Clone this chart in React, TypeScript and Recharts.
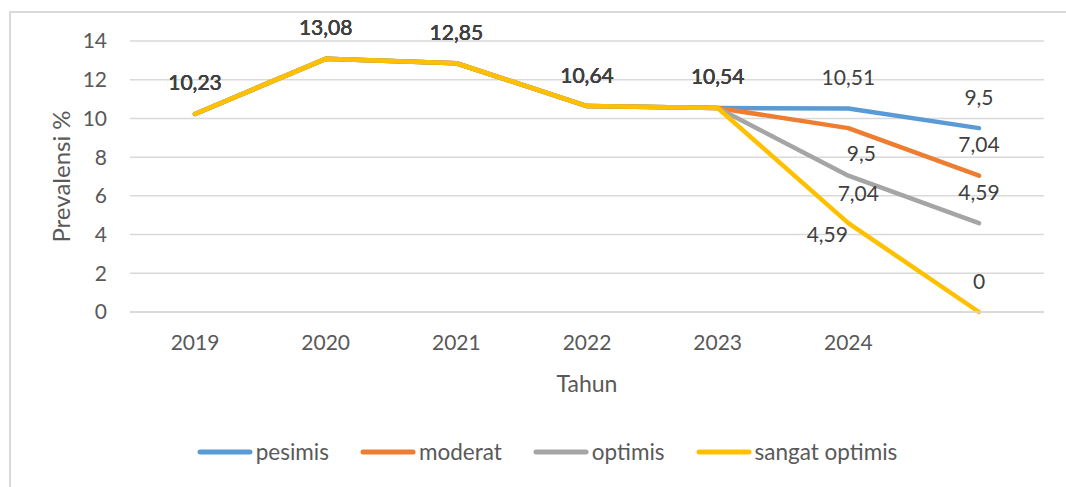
import React from "react";
import { CartesianGrid, LabelList, Label, Legend, Line, LineChart, XAxis, YAxis } from "recharts";

const years = ["2019", "2020", "2021", "2022", "2023", "2024", ""];
const pesimis = [10.23, 13.08, 12.85, 10.64, 10.54, 10.51, 9.5];
const moderat = [10.23, 13.08, 12.85, 10.64, 10.54, 9.5, 7.04];
const optimis = [10.23, 13.08, 12.85, 10.64, 10.54, 7.04, 4.59];
const sangatOptimis = [10.23, 13.08, 12.85, 10.64, 10.54, 4.59, 0];
const yTicks = [0, 2, 4, 6, 8, 10, 12, 14];

const SERIES = [
  { key: "pesimis", color: "#5B9BD5", values: pesimis },
  { key: "moderat", color: "#ED7D31", values: moderat },
  { key: "optimis", color: "#A5A5A5", values: optimis },
  { key: "sangat optimis", color: "#FFC000", values: sangatOptimis },
];

const data = years.map((year, i) => {
  const row: Record<string, string | number> = { year };
  SERIES.forEach((s) => (row[s.key] = s.values[i]));
  return row;
});

const FONT = "Lato, 'Open Sans', sans-serif";
const TEXT = "#595959";

// Excel pushed a few 2024 labels below/aside the line so they don't collide
const SHIFT_2024: Record<string, [number, number]> = {
  moderat: [13, 24],
  optimis: [10, 17],
  "sangat optimis": [-21, 10],
};

const makeLabel = (key: string) => (props: any) => {
  const x = props.x ?? props.viewBox?.x;
  const y = props.y ?? props.viewBox?.y;
  if (x == null || y == null) return null;
  let [dx, dy] = [0, -32];
  if (props.index === 5 && SHIFT_2024[key]) [dx, dy] = SHIFT_2024[key];
  return (
    <text
      x={x + dx}
      y={y + dy}
      textAnchor="middle"
      dominantBaseline="central"
      fill="#404040"
      fontSize={21}
      fontFamily={FONT}
    >
      {String(props.value).replace(".", ",")}
    </text>
  );
};

const renderLegend = () => (
  <div style={{ display: "flex", justifyContent: "center", alignItems: "center", gap: 31 }}>
    {SERIES.map((s) => (
      <div key={s.key} style={{ display: "flex", alignItems: "center" }}>
        <svg width={56} height={8}>
          <line x1={3} y1={4} x2={53} y2={4} stroke={s.color} strokeWidth={5} strokeLinecap="round" />
        </svg>
        <span style={{ marginLeft: 3, fontSize: 22.5, color: TEXT, fontFamily: FONT }}>{s.key}</span>
      </div>
    ))}
  </div>
);

export default function App() {
  return (
    <div
      style={{
        position: "absolute",
        left: 0,
        top: 0,
        width: 1066,
        height: 487,
        overflow: "hidden",
        background: "#fff",
        fontFamily: FONT,
      }}
    >
      <div
        style={{
          position: "absolute",
          left: 9,
          top: 11,
          width: 1100,
          height: 520,
          border: "2px solid #d9d9d9",
          boxSizing: "border-box",
        }}
      />
      <LineChart width={1066} height={487} data={data} margin={{ top: 41, right: 22, bottom: 68, left: 70 }}>
        <CartesianGrid vertical={false} stroke="#d9d9d9" strokeWidth={1.5} />
        <XAxis
          dataKey="year"
          stroke="#d9d9d9"
          strokeWidth={1.5}
          tickLine={false}
          tickMargin={17}
          height={80}
          interval={0}
          padding={{ left: 65, right: 65 }}
          tick={{ fill: TEXT, fontSize: 21 }}
        >
          <Label
            content={(p: any) => {
              const vb = p.viewBox || {};
              return (
                <text x={vb.x + vb.width / 2} y={vb.y + 71} textAnchor="middle" dominantBaseline="central" fill={TEXT} fontSize={23} fontFamily={FONT}>
                  Tahun
                </text>
              );
            }}
          />
        </XAxis>
        <YAxis
          domain={[0, 14]}
          ticks={yTicks}
          width={60}
          axisLine={false}
          tickLine={false}
          tickMargin={17}
          tick={{ fill: TEXT, fontSize: 21 }}
        >
          <Label
            content={(p: any) => {
              const vb = p.viewBox || {};
              const cx = vb.x - 10;
              const cy = vb.y + vb.height / 2;
              return (
                <text
                  x={cx}
                  y={cy}
                  transform={`rotate(-90 ${cx} ${cy})`}
                  textAnchor="middle"
                  dominantBaseline="central"
                  fill={TEXT}
                  fontSize={24}
                  fontFamily={FONT}
                >
                  Prevalensi %
                </text>
              );
            }}
          />
        </YAxis>
        <Legend
          verticalAlign="bottom"
          wrapperStyle={{ left: 9, width: 1076, top: 438 }}
          content={renderLegend}
        />
        {SERIES.map((s) => (
          <Line
            key={s.key}
            type="linear"
            dataKey={s.key}
            name={s.key}
            stroke={s.color}
            strokeWidth={4.5}
            strokeLinecap="round"
            strokeLinejoin="round"
            dot={false}
            activeDot={false}
            isAnimationActive={false}
          >
            <LabelList dataKey={s.key} content={makeLabel(s.key)} />
          </Line>
        ))}
      </LineChart>
    </div>
  );
}
